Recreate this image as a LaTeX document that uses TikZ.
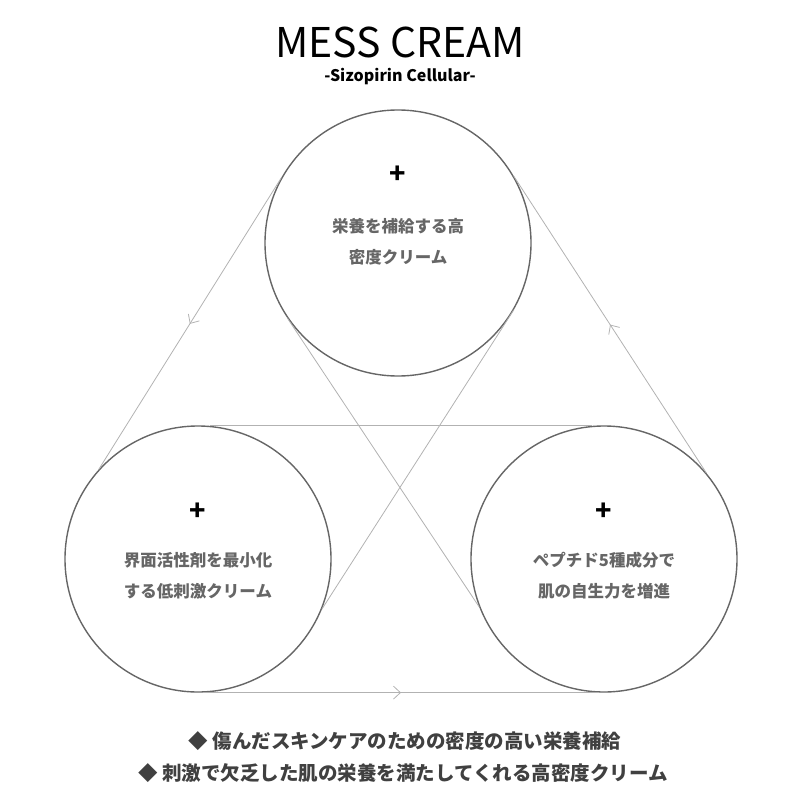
\documentclass[tikz,border=0pt]{standalone}
\usepackage{fontspec}
\setmainfont{Noto Sans CJK JP}
\usetikzlibrary{arrows.meta,decorations.markings}

\tikzset{
  bubble/.style={circle, draw=black!60, line width=1.4pt, minimum size=266pt, inner sep=0pt},
  link/.style={draw=black!30, line width=0.8pt},
  flow/.style={link, decoration={markings, mark=at position 0.5 with {\arrow{Straight Barb[length=7pt,width=13pt]}}}, postaction=decorate},
  caption/.style={text=black!60, font=\fontsize{16.5}{31}\selectfont\bfseries, align=center},
  plus/.style={font=\fontsize{27}{27}\selectfont\bfseries},
  note/.style={text=black!75, font=\fontsize{19.5}{19.5}\selectfont\bfseries}
}

\begin{document}
\begin{tikzpicture}[x=1pt, y=-1pt]
    \useasboundingbox (0,0) rectangle (800,800);
    \node (title) at (400,42) {\fontsize{41}{41}\selectfont MESS CREAM};
    \node (subtitle) at (400,77) {\fontsize{16}{16}\selectfont\bfseries -Sizopirin Cellular-};
    \node [bubble] (top) at (398,243) {};
    \node [bubble] (left) at (198,559) {};
    \node [bubble] (right) at (604,559) {};
    % outer cycle
    \draw [flow] (top.151) -- (left.138);
    \draw [flow] (right.40) -- (top.30);
    \draw [flow] (left.-88) -- (right.-92);
    % inner triangle
    \draw [link] (left.85) -- (right.95);
    \draw [link] (top.214) -- (right.201);
    \draw [link] (top.330) -- (left.338);
    \node [plus] (ptop) at (398,175) {+};
    \node [plus] (pleft) at (198,512) {+};
    \node [plus] (pright) at (604,512) {+};
    \node [caption] (ttop) at (398,242) {栄養を補給する高\\密度クリーム};
    \node [caption] (tleft) at (198,576) {界面活性剤を最小化\\する低刺激クリーム};
    \node [caption] (tright) at (604,576) {ペプチド5種成分で\\肌の自生力を増進};
    \node [note] (note1) at (405,741) {◆ 傷んだスキンケアのための密度の高い栄養補給};
    \node [note] (note2) at (403,773) {◆ 刺激で欠乏した肌の栄養を満たしてくれる高密度クリーム};
\end{tikzpicture}
\end{document}
